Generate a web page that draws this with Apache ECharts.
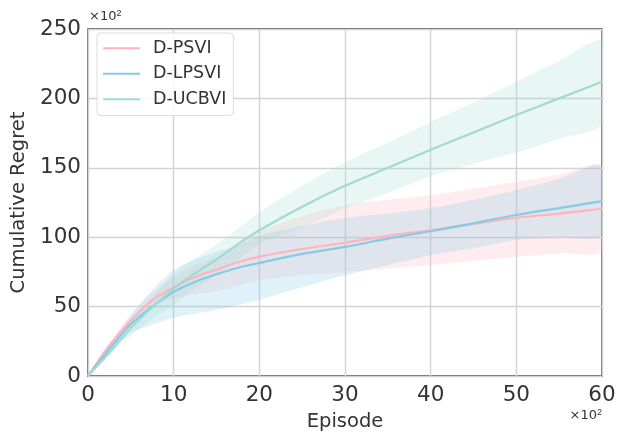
<!DOCTYPE html>
<html><head><meta charset="utf-8">
<script src="https://cdn.jsdelivr.net/npm/echarts@6/dist/echarts.min.js"></script>
<style>html,body{margin:0;padding:0;background:#fff}#c{width:620px;height:432px}</style>
</head><body><div id="c"></div>
<script>
const episodes = [0, 2.5, 5, 7.5, 10, 12.5, 15, 17.5, 20, 25, 30, 35, 40, 45, 50, 55, 60];
const psviMean  = [0, 22, 40, 54.5, 64, 71.4, 76.7, 82, 86, 91.5, 96, 101, 105, 109.5, 114, 117, 120.5];
const psviUpper = [0, 24, 44, 60, 71.5, 80, 86, 94, 104, 115, 123, 127, 130, 135, 140, 145, 151];
const psviLower = [0, 20, 36, 49, 56, 59, 61, 65, 69, 72.5, 75, 77.5, 80, 83, 86, 88.5, 91];
const lpsviMean  = [0, 19.5, 37.4, 50, 60.7, 67.8, 73.3, 78, 81.4, 88, 93, 99, 104.3, 110, 116, 121, 126];
const lpsviUpper = [0, 22, 44, 62, 76.5, 84, 89.6, 94, 101, 108, 114, 117, 121, 127, 134, 142, 151];
const lpsviLower = [0, 17, 31, 37, 42, 45, 47.6, 51, 55, 64, 72.5, 80, 87, 92, 98, 100, 102];
const ucbMean  = [0, 17, 34.5, 49.5, 63, 74, 84, 95, 105, 122, 137, 150, 163, 175.5, 188, 200, 212];
const ucbUpper = [0, 19.5, 39, 57, 74, 85, 95, 106, 118, 137, 154, 168, 183, 197, 212, 227, 241];
const ucbLower = [0, 15, 29, 41, 51, 63, 73, 84, 95, 107, 120.7, 132, 144, 153, 161, 171, 182];
const yTicks = [0, 50, 100, 150, 200, 250];
const xTicks = [0, 10, 20, 30, 40, 50, 60];

const names = ['D-PSVI', 'D-LPSVI', 'D-UCBVI'];
const colors = ['#ffb3bd', '#85cbe6', '#a2dad3'];
const means = [psviMean, lpsviMean, ucbMean];
const uppers = [psviUpper, lpsviUpper, ucbUpper];
const lowers = [psviLower, lpsviLower, ucbLower];

const pairs = arr => arr.map((v, i) => [episodes[i], v]);
const series = [];
names.forEach((n, k) => {
  series.push({
    name: n + '_band', type: 'custom', silent: true, z: 1, clip: true,
    data: episodes.map((x, i) => [x, lowers[k][i], uppers[k][i]]),
    encode: {x: 0, y: [1, 2]},
    renderItem: (params, api) => {
      if (params.dataIndex !== 0) return null;
      const pts = [];
      for (let i = 0; i < episodes.length; i++) pts.push(api.coord([episodes[i], uppers[k][i]]));
      for (let i = episodes.length - 1; i >= 0; i--) pts.push(api.coord([episodes[i], lowers[k][i]]));
      return {type: 'polygon', shape: {points: pts, smooth: 0.3},
        style: {fill: colors[k], opacity: 0.25, stroke: null}};
    }
  });
});
names.forEach((n, k) => {
  series.push({
    name: n, type: 'line', symbol: 'none', smooth: 0.3, data: pairs(means[k]),
    lineStyle: {color: colors[k], width: 2.2}, itemStyle: {color: colors[k]}, z: 5
  });
});

const chart = echarts.init(document.getElementById('c'), null, {renderer: 'canvas'});
chart.setOption({
  animation: false,
  backgroundColor: '#fff',
  grid: {left: 88, right: 18, top: 29, bottom: 56, show: true, borderColor: '#333', borderWidth: 1.3,
    containLabel: false, outerBoundsMode: 'none'},
  xAxis: {
    type: 'value', min: 0, max: 60, interval: 10,
    name: 'Episode', nameLocation: 'middle', nameGap: 36,
    nameTextStyle: {fontSize: 19.5, color: '#333', fontFamily: 'DejaVu Sans'},
    axisLine: {show: false}, axisTick: {show: false},
    axisLabel: {fontSize: 21.5, color: '#333', fontFamily: 'DejaVu Sans', margin: 8,
      formatter: v => xTicks.includes(v) ? String(v) : ''},
    splitLine: {lineStyle: {color: '#d3d3d3', width: 1.4}}
  },
  yAxis: {
    type: 'value', min: 0, max: 250, interval: 50,
    name: 'Cumulative Regret', nameLocation: 'middle', nameGap: 57,
    nameTextStyle: {fontSize: 19.5, color: '#333', fontFamily: 'DejaVu Sans'},
    axisLine: {show: false}, axisTick: {show: false},
    axisLabel: {fontSize: 21.5, color: '#333', fontFamily: 'DejaVu Sans', margin: 7,
      formatter: v => yTicks.includes(v) ? String(v) : ''},
    splitLine: {lineStyle: {color: '#d3d3d3', width: 1.4}}
  },
  legend: {
    data: names.map(n => ({name: n, icon: 'rect'})), orient: 'vertical', left: 97, top: 33,
    padding: [5, 7, 6, 6], itemGap: 5, itemWidth: 37, itemHeight: 2,
    backgroundColor: 'rgba(255,255,255,0.85)', borderColor: '#dcdcdc', borderWidth: 1, borderRadius: 4,
    textStyle: {fontSize: 17.5, lineHeight: 20.5, color: '#333', fontFamily: 'DejaVu Sans', padding: [0, 0, 0, 8]}
  },
  graphic: [
    {type: 'text', left: 89, top: 9, style: {text: '×10{s|2}', fontSize: 13, fill: '#333', fontFamily: 'DejaVu Sans',
      rich: {s: {fontSize: 9, verticalAlign: 'top', padding: [0, 0, 6, 0]}}}},
    {type: 'text', right: 18, top: 408, style: {text: '×10{s|2}', fontSize: 13, fill: '#333', fontFamily: 'DejaVu Sans',
      rich: {s: {fontSize: 9, verticalAlign: 'top', padding: [0, 0, 6, 0]}}}}
  ],
  series: series
});
</script></body></html>
